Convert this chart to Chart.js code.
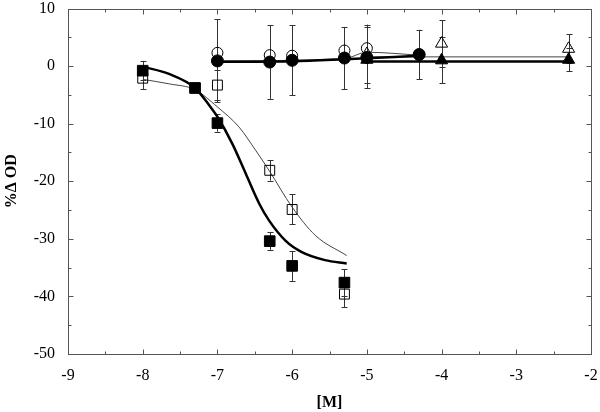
<!DOCTYPE html>
<html><head><meta charset="utf-8">
<script src="https://cdn.jsdelivr.net/npm/chart.js@4/dist/chart.umd.min.js"></script>
<style>html,body{margin:0;padding:0;background:#fff}</style>
</head><body>
<canvas id="c" width="600" height="412"></canvas>
<script>
// ---- tick labels ----
const xTicks = [-9, -8, -7, -6, -5, -4, -3, -2];
const yTicks = [-50, -40, -30, -20, -10, 0, 10];
const xMinorTicks = [-8.5, -7.5, -6.5, -5.5, -4.5, -3.5, -2.5];
const yMinorTicks = [-45, -35, -25, -15, -5, 5];

// ---- squares (log [M] vs %ΔOD) ----
const xSquares = [-8, -7.3, -7, -6.3, -6, -5.3];
const yFilledSq = [-0.8, -3.8, -9.9, -30.4, -34.7, -37.6];
const eFilledSq = [1.7, 0.4, 1.5, 1.5, 2.6, 2.3];
const yOpenSq = [-2.1, -3.8, -3.3, -18.1, -24.9, -39.6];
const eOpenSq = [1.9, 0.4, 2.6, 1.8, 2.6, 2.3];

// ---- circles ----
const xCircles = [-7, -6.3, -6, -5.3, -5, -4.3];
const yFilledCirc = [0.9, 0.7, 1.0, 1.4, 1.5, 2.0];
const eFilledCirc = [7.2, 6.4, 6.1, 5.4, 5.3, 4.3];
const yOpenCirc = [2.3, 1.9, 1.8, 2.7, 3.1, 2.0];
const eOpenCirc = [0, 0, 0, 0, 0, 0];

// ---- triangles ----
const xTriangles = [-5, -4, -2.3];
const yOpenTri = [2.1, 3.9, 3.0];
const eOpenTri = [5.1, 4.1, 2.5];
const yFilledTri = [1.1, 1.0, 1.1];
const eFilledTri = [0, 4.0, 2.0];

// ---- fitted curves ----
const xFitFilledSq = [-8, -7.64, -7.3, -7.11, -7, -6.8, -6.62, -6.44, -6.31, -6.09, -5.87, -5.56, -5.27];
const yFitFilledSq = [-0.1, -1.4, -3.8, -6.8, -8.8, -13.5, -18.7, -23.9, -26.8, -30.3, -32.3, -33.7, -34.3];
const xFitOpenSq = [-8, -7.64, -7.3, -7, -6.71, -6.49, -6.31, -6.0, -5.69, -5.27];
const yFitOpenSq = [-2.3, -3.1, -4.1, -7.1, -10.6, -14.6, -18.1, -24.5, -29.4, -32.9];
const xFitFilledCirc = [-7, -6, -5.3, -4.3];
const yFitFilledCirc = [0.75, 0.85, 1.2, 1.8];
const xFitOpenCirc = [-7, -5.3, -5, -4.3];
const yFitOpenCirc = [0.9, 1.3, 2.4, 1.9];
const xFitOpenTri = [-5, -2.3];
const yFitOpenTri = [1.6, 1.6];
const xFitFilledTri = [-5, -2.3];
const yFitFilledTri = [0.8, 0.8];

function pts(xs, ys) { return xs.map((x, i) => ({ x: x, y: ys[i] })); }

const FONT = '"Liberation Serif", serif';

function markerSet(label, xs, ys, errs, style, radius, filled, order) {
  return {
    label: label, data: pts(xs, ys), err: errs, showLine: false,
    pointStyle: style, pointRadius: radius, pointHoverRadius: radius,
    backgroundColor: filled ? '#000' : 'rgba(255,255,255,0)',
    borderColor: '#000', pointBorderWidth: 1, order: order
  };
}
function lineSet(label, xs, ys, width, color, order) {
  return {
    label: label, data: pts(xs, ys), showLine: true, pointRadius: 0,
    borderColor: color, borderWidth: width, cubicInterpolationMode: 'monotone',
    fill: false, order: order
  };
}

const errorBars = {
  id: 'errorBars',
  beforeDatasetsDraw(chart) {
    const { ctx, scales: { x, y } } = chart;
    ctx.save();
    ctx.strokeStyle = '#333';
    ctx.lineWidth = 1;
    chart.data.datasets.forEach(ds => {
      if (!ds.err) return;
      ds.data.forEach((p, i) => {
        const e = ds.err[i];
        if (!e) return;
        const px = Math.round(x.getPixelForValue(p.x)) + 0.5;
        const y1 = y.getPixelForValue(p.y + e);
        const y2 = y.getPixelForValue(p.y - e);
        ctx.beginPath();
        ctx.moveTo(px, y1); ctx.lineTo(px, y2);
        ctx.moveTo(px - 3, Math.round(y1) + 0.5); ctx.lineTo(px + 3, Math.round(y1) + 0.5);
        ctx.moveTo(px - 3, Math.round(y2) + 0.5); ctx.lineTo(px + 3, Math.round(y2) + 0.5);
        ctx.stroke();
      });
    });
    ctx.restore();
  }
};

const frame = {
  id: 'frame',
  afterDatasetsDraw(chart) {
    const { ctx, chartArea: a, scales: { x, y } } = chart;
    ctx.save();
    ctx.strokeStyle = '#555';
    ctx.lineWidth = 1;
    const L = Math.round(a.left) + 0.5, R = Math.round(a.right) + 0.5;
    const T = Math.round(a.top) + 0.5, B = Math.round(a.bottom) + 0.5;
    ctx.strokeRect(L, T, R - L, B - T);
    ctx.beginPath();
    const xt = (v, len) => {
      const px = Math.round(x.getPixelForValue(v)) + 0.5;
      ctx.moveTo(px, B); ctx.lineTo(px, B - len);
      ctx.moveTo(px, T); ctx.lineTo(px, T + len);
    };
    const yt = (v, len) => {
      const py = Math.round(y.getPixelForValue(v)) + 0.5;
      ctx.moveTo(L, py); ctx.lineTo(L + len, py);
      ctx.moveTo(R, py); ctx.lineTo(R - len, py);
    };
    xTicks.forEach(v => xt(v, 5));
    xMinorTicks.forEach(v => xt(v, 3));
    yTicks.forEach(v => yt(v, 5));
    yMinorTicks.forEach(v => yt(v, 3));
    ctx.stroke();
    ctx.restore();
  }
};

new Chart(document.getElementById('c'), {
  type: 'scatter',
  data: {
    datasets: [
      markerSet('filled squares', xSquares, yFilledSq, eFilledSq, 'rect', 7.5, true, 1),
      markerSet('open squares', xSquares, yOpenSq, eOpenSq, 'rect', 7, false, 2),
      markerSet('filled circles', xCircles, yFilledCirc, eFilledCirc, 'circle', 6, true, 1),
      markerSet('open circles', xCircles, yOpenCirc, eOpenCirc, 'circle', 5.5, false, 3),
      markerSet('filled triangles', xTriangles, yFilledTri, eFilledTri, 'triangle', 7, true, 1),
      markerSet('open triangles', xTriangles, yOpenTri, eOpenTri, 'triangle', 7, false, 2),
      lineSet('fit filled squares', xFitFilledSq, yFitFilledSq, 2.5, '#000', 5),
      lineSet('fit open squares', xFitOpenSq, yFitOpenSq, 1, '#444', 6),
      lineSet('fit filled circles', xFitFilledCirc, yFitFilledCirc, 2.5, '#000', 5),
      lineSet('fit open circles', xFitOpenCirc, yFitOpenCirc, 1, '#444', 6),
      lineSet('fit open triangles', xFitOpenTri, yFitOpenTri, 1, '#444', 6),
      lineSet('fit filled triangles', xFitFilledTri, yFitFilledTri, 2.5, '#000', 5)
    ]
  },
  options: {
    responsive: false,
    animation: false,
    devicePixelRatio: 1,
    layout: { padding: { top: 8, right: 9, left: 0, bottom: 0 } },
    plugins: { legend: { display: false }, tooltip: { enabled: false } },
    scales: {
      x: {
        type: 'linear', min: -9, max: -2,
        afterBuildTicks: s => { s.ticks = xTicks.map(v => ({ value: v })); },
        grid: { display: false, drawTicks: false },
        border: { display: false },
        ticks: { color: '#000', font: { family: FONT, size: 16 }, padding: 12, maxRotation: 0 },
        title: { display: true, text: '[M]', color: '#000', font: { family: FONT, size: 16, weight: 'bold' }, padding: { top: 0, bottom: 0 } },
        afterFit: s => { s.height = 58; s.paddingLeft = 0; s.paddingRight = 0; }
      },
      y: {
        type: 'linear', min: -50, max: 10,
        afterBuildTicks: s => { s.ticks = yTicks.map(v => ({ value: v })); },
        grid: { display: false, drawTicks: false },
        border: { display: false },
        ticks: { color: '#000', font: { family: FONT, size: 16 }, padding: 13 },
        title: { display: true, text: '%Δ OD', color: '#000', font: { family: FONT, size: 16, weight: 'bold' }, padding: { top: 2, bottom: 0 } },
        afterFit: s => { s.width = 68; s.paddingTop = 0; s.paddingBottom = 0; }
      }
    }
  },
  plugins: [errorBars, frame]
});
</script>
</body></html>
